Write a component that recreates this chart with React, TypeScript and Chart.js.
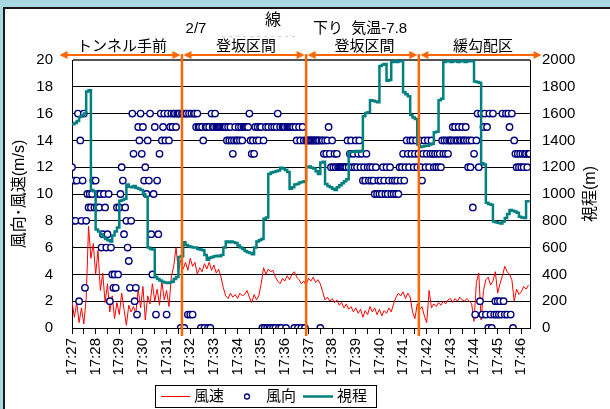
import React, { useEffect, useRef } from 'react';
import { Chart, registerables } from 'chart.js';

Chart.register(...registerables);

// ---------------- data ----------------
const timeLabels = [
  '17:27', '17:28', '17:29', '17:30', '17:31', '17:32', '17:33', '17:34', '17:35', '17:36',
  '17:37', '17:38', '17:39', '17:40', '17:41', '17:42', '17:43', '17:44', '17:45', '17:46',
];

// seconds after 17:27:00
const SPEED_STEP = 6;
const DIR_STEP = 3;
const VIS_STEP = 6;
const X_MAX = 1162;

// 風速 (m/s), every 6 s
const windSpeed = [
  2.0, 0.8, 1.9, 0.4, 1.5, 0.3, 2.2, 7.6, 5.2, 6.3,
  4.0, 5.8, 2.8, 4.1, 1.9, 3.3, 1.2, 2.4, 0.7, 1.9,
  1.0, 2.6, 1.4, 0.2, 1.7, 1.2, 1.6, 1.1, 2.9, 1.5,
  3.1, 0.6, 2.4, 1.8, 3.3, 2.0, 2.9, 1.7, 3.5, 2.1,
  2.8, 1.6, 3.8, 4.6, 6.0, 4.2, 5.1, 4.4, 4.9, 4.3,
  5.2, 4.6, 4.9, 4.0, 4.5, 4.2, 4.8, 4.4, 4.9, 4.3,
  4.7, 4.1, 4.4, 3.8, 3.0, 2.4, 2.2, 2.6, 2.3, 2.5,
  2.2, 2.6, 2.4, 2.5, 2.8, 2.3, 1.9, 2.5, 2.1, 2.4,
  3.3, 4.5, 4.0, 4.4, 4.2, 4.3, 3.8, 3.5, 3.3, 3.7,
  3.5, 3.9, 3.6, 4.0, 4.2, 3.8, 3.6, 3.3, 3.5, 3.2,
  3.7, 3.5, 3.8, 3.4, 3.6, 3.3, 2.7, 2.1, 2.3, 2.0,
  2.2, 1.9, 2.1, 1.7, 1.9, 1.5, 1.8, 1.4, 1.6, 1.2,
  1.5, 1.1, 1.4, 0.8, 1.3, 1.0, 1.6, 1.2, 1.5, 1.0,
  1.4, 0.9, 1.3, 1.1, 1.5, 1.2, 1.8, 2.3, 2.6, 2.4,
  2.7, 2.2, 2.6, 2.3, 1.2, 0.7, 1.8, 1.4, 1.6, 0.9,
  0.4, 2.8, 1.5, 1.8, 1.6, 1.9, 1.7, 2.0, 1.8, 2.1,
  2.2, 1.9, 2.2, 2.0, 2.3, 2.1, 2.0, 2.2, 2.0, 1.8,
  0.5, 3.4, 4.1, 0.6, 2.8, 3.6, 3.8, 3.2, 3.5, 4.2,
  2.6, 3.3, 3.9, 4.6, 4.2, 4.0, 3.6, 2.0, 2.9, 2.5,
  2.7, 3.1, 2.9, 3.2,
];

// 風向 (16 directions), every 3 s
const windDir = [
  12, 8, 11, 8, 11, 16, 2, 14, 8, 11, 16, 3, 8, 10, 9, 10, 9, 10, 11, 9,
  11, 9, 10, 9, 10, 6, 7, 10, 9, 6, 7, 10, 2, 6, 4, 3, 4, 3, 9, 4,
  9, 10, 12, 11, 7, 9, 8, 6, 5, 3, 8, 16, 13, 2, 3, 1, 15, 14, 16, 13,
  15, 11, 12, 10, 14, 11, 16, 7, 4, 10, 15, 1, 11, 7, 13, 16, 14, 15, 16, 14,
  1, 16, 14, 15, 16, 15, 16, 16, 15, 16, 16, 16, 0, 16, 16, 0, 16, 16, 1, 16,
  1, 16, 1, 16, 16, 15, 16, 15, 15, 0, 15, 14, 0, 15, 15, 0, 15, 0, 16, 15,
  15, 16, 15, 15, 15, 15, 15, 15, 15, 15, 15, 14, 15, 14, 15, 14, 13, 14, 15, 14,
  14, 15, 14, 15, 14, 15, 15, 15, 15, 15, 16, 14, 13, 14, 13, 15, 14, 15, 14, 15,
  15, 0, 14, 0, 15, 0, 15, 0, 0, 15, 0, 15, 0, 15, 16, 0, 15, 0, 15, 15,
  15, 0, 15, 15, 15, 15, 15, 15, 0, 15, 14, 0, 15, 14, 0, 15, 14, 0, 14, 14,
  14, 14, 14, 14, 14, 14, 14, 14, 14, 14, 0, 14, 14, 13, 14, 13, 14, 15, 13, 12,
  14, 12, 13, 12, 13, 12, 12, 12, 12, 12, 12, 12, 12, 14, 12, 13, 14, 12, 13, 12,
  14, 12, 13, 14, 12, 13, 11, 12, 11, 13, 12, 11, 12, 11, 12, 11, 10, 12, 10, 11,
  10, 11, 10, 12, 11, 10, 12, 10, 11, 12, 10, 11, 10, 11, 10, 11, 10, 12, 11, 12,
  13, 11, 12, 14, 13, 12, 14, 13, 14, 12, 13, 14, 12, 13, 14, 12, 11, 13, 14, 12,
  13, 14, 12, 13, 14, 13, 12, 13, 12, 13, 12, 13, 12, 14, 13, 14, 13, 14, 13, 14,
  14, 14, 15, 14, 15, 14, 14, 15, 14, 14, 15, 14, 14, 15, 14, 12, 14, 12, 14, 9,
  13, 1, 14, 16, 12, 2, 16, 1, 15, 16, 1, 15, 0, 16, 1, 0, 16, 1, 2, 1,
  2, 1, 2, 1, 16, 2, 1, 16, 1, 16, 15, 1, 16, 0, 14, 13, 12, 13, 12, 13,
  12, 13, 12, 13, 13, 12, 13, 13,
];

// 視程 (m), every 6 s
const visibility = [
  1520, 1530, 1545, 1575, 1585, 1600, 1765, 1775, 1030, 1020,
  735, 720, 700, 680, 665, 655, 645, 690, 720, 750,
  950, 955, 965, 1070, 1055, 1050, 1060, 1045, 1040, 1030,
  1000, 980, 600, 590, 585, 380, 365, 355, 345, 340,
  335, 340, 345, 365, 380, 530, 535, 640, 620, 610,
  605, 600, 600, 590, 585, 580, 545, 510, 525, 530,
  535, 540, 535, 545, 600, 645, 640, 645, 640, 635,
  615, 600, 590, 575, 565, 560, 550, 600, 645, 655,
  665, 815, 825, 1150, 1160, 1165, 1170, 1175, 1195, 1190,
  1180, 1165, 1040, 1050, 1070, 1075, 1085, 1090, 1095, 1200,
  1205, 1195, 1190, 1170, 1150, 1236, 1240, 1075, 1060, 1050,
  1040, 1030, 1050, 1065, 1080, 1095, 1110, 1310, 1315, 1315,
  1320, 1315, 1320, 1580, 1605, 1610, 1700, 1695, 1690, 1685,
  1955, 1965, 1970, 1845, 1850, 1985, 1990, 1985, 1995, 1990,
  1760, 1745, 1730, 1590, 1570, 1560, 1370, 1350, 1355, 1360,
  1360, 1370, 1375, 1460, 1465, 1700, 1710, 1985, 1995, 1990,
  1985, 1995, 1990, 1985, 1995, 1990, 1985, 1990, 1995, 1990,
  1840, 1835, 1830, 1230, 1220, 935, 925, 920, 795, 790,
  785, 780, 795, 820, 850, 880, 875, 870, 860, 830,
  825, 820, 945, 955,
];

// section boundaries (seconds after 17:27:00) and names
const sectionBounds = [279, 594, 880];
const sectionNames = ['トンネル手前', '登坂区間', '登坂区間', '緩勾配区'];

const headerDate = '2/7';
const headerLine = '線';
const headerInfo = '下り  気温-7.8';
const leftTitle = '風向･風速(m/s)';
const rightTitle = '視程(m)';
const legendNames = ['風速', '風向', '視程'];

// ---------------- styles ----------------
const FONT = "'Liberation Sans', 'Noto Sans CJK JP', Arial, sans-serif";
const RED = '#ff0000';
const NAVY = '#000080';
const TEAL = '#008080';
const ORANGE = '#ff6600';

function doubleArrow(ctx: CanvasRenderingContext2D, x1: number, x2: number, y: number) {
  const hl = 8;
  const hw = 4;
  ctx.beginPath();
  ctx.moveTo(x1 + hl - 1, y);
  ctx.lineTo(x2 - hl + 1, y);
  ctx.stroke();
  ctx.beginPath();
  ctx.moveTo(x1, y);
  ctx.lineTo(x1 + hl, y - hw);
  ctx.lineTo(x1 + hl, y + hw);
  ctx.closePath();
  ctx.fill();
  ctx.beginPath();
  ctx.moveTo(x2, y);
  ctx.lineTo(x2 - hl, y - hw);
  ctx.lineTo(x2 - hl, y + hw);
  ctx.closePath();
  ctx.fill();
}

const overlayPlugin = {
  id: 'overlay',
  afterDraw(chart: any) {
    const { ctx, chartArea: ca, scales } = chart;
    const xs = scales.x;
    ctx.save();

    const bx = sectionBounds.map((t) => xs.getPixelForValue(t));
    // orange boundary lines
    ctx.strokeStyle = ORANGE;
    ctx.fillStyle = ORANGE;
    ctx.lineWidth = 2.5;
    bx.forEach((x) => {
      ctx.beginPath();
      ctx.moveTo(x, ca.top - 6);
      ctx.lineTo(x, ca.bottom + 8);
      ctx.stroke();
    });
    // arrows
    const ends = [ca.left - 14, ...bx, ca.right + 13];
    const ay = ca.top - 5;
    ctx.lineWidth = 2;
    for (let k = 0; k < ends.length - 1; k++) {
      doubleArrow(ctx, ends[k] + 1.5, ends[k + 1] - 1.5, ay);
    }

    // section labels
    ctx.fillStyle = '#000';
    ctx.font = `15px ${FONT}`;
    ctx.textAlign = 'center';
    ctx.textBaseline = 'middle';
    sectionNames.forEach((n, k) => {
      ctx.fillText(n, (ends[k] + ends[k + 1]) / 2 + 2, ca.top - 13);
    });

    // header
    ctx.font = `15px ${FONT}`;
    ctx.fillText(headerDate, 196, 29);
    ctx.font = `16px ${FONT}`;
    ctx.fillText(headerLine, 273, 21);
    ctx.textAlign = 'left';
    ctx.font = `15px ${FONT}`;
    ctx.fillText(headerInfo, 313, 29);
    ctx.strokeStyle = '#d0d0d0';
    ctx.lineWidth = 1;
    ctx.setLineDash([3, 4]);
    ctx.beginPath();
    ctx.moveTo(222, 36.5);
    ctx.lineTo(296, 36.5);
    ctx.stroke();
    ctx.setLineDash([]);

    // right axis title (reads bottom to top)
    ctx.save();
    ctx.translate(591, (ca.top + ca.bottom) / 2);
    ctx.rotate(-Math.PI / 2);
    ctx.textAlign = 'center';
    ctx.font = `16px ${FONT}`;
    ctx.fillText(rightTitle, 0, 0);
    ctx.restore();

    // legend
    const lx = 155.5;
    const ly = 385.5;
    const lw = 221;
    const lh = 22;
    ctx.strokeStyle = '#000';
    ctx.lineWidth = 1;
    ctx.strokeRect(lx, ly, lw, lh);
    const cy = ly + lh / 2;
    ctx.font = `15px ${FONT}`;
    ctx.textAlign = 'left';
    ctx.fillStyle = '#000';
    // 風速
    ctx.strokeStyle = RED;
    ctx.lineWidth = 1;
    ctx.beginPath();
    ctx.moveTo(161, cy);
    ctx.lineTo(190, cy);
    ctx.stroke();
    ctx.fillText(legendNames[0], 194, cy);
    // 風向
    ctx.strokeStyle = NAVY;
    ctx.lineWidth = 1.3;
    ctx.beginPath();
    ctx.arc(247, cy, 2.5, 0, Math.PI * 2);
    ctx.stroke();
    ctx.fillText(legendNames[1], 266, cy);
    // 視程
    ctx.strokeStyle = TEAL;
    ctx.lineWidth = 2.5;
    ctx.beginPath();
    ctx.moveTo(303, cy);
    ctx.lineTo(333, cy);
    ctx.stroke();
    ctx.fillText(legendNames[2], 337, cy);

    ctx.restore();
  },
};

export default function App() {
  const ref = useRef<HTMLCanvasElement>(null);

  useEffect(() => {
    const canvas = ref.current;
    if (!canvas) return;
    Chart.defaults.font.family = FONT;
    Chart.defaults.font.size = 15;
    Chart.defaults.color = '#000';

    const chart = new Chart(canvas, {
      type: 'line',
      data: {
        datasets: [
          {
            label: legendNames[0],
            data: windSpeed.map((v, i) => ({ x: i * SPEED_STEP, y: v })),
            borderColor: RED,
            backgroundColor: RED,
            borderWidth: 1,
            pointRadius: 0,
            yAxisID: 'y',
            order: 2,
          },
          {
            label: legendNames[1],
            data: windDir.map((v, i) => ({ x: i * DIR_STEP, y: v })),
            showLine: false,
            pointRadius: 3.2,
            pointBorderWidth: 1.4,
            pointBorderColor: NAVY,
            pointBackgroundColor: '#ffffff',
            borderColor: NAVY,
            backgroundColor: '#ffffff',
            yAxisID: 'y',
            order: 1,
          },
          {
            label: legendNames[2],
            data: visibility.map((v, i) => ({ x: i * VIS_STEP, y: v })),
            borderColor: TEAL,
            backgroundColor: TEAL,
            borderWidth: 2.5,
            pointRadius: 0,
            stepped: true,
            yAxisID: 'y2',
            order: 0,
          },
        ],
      } as any,
      options: {
        responsive: false,
        animation: false,
        layout: { padding: { top: 60, left: 0, right: 0, bottom: 0 } },
        plugins: { legend: { display: false }, tooltip: { enabled: false } },
        scales: {
          x: {
            type: 'linear',
            min: 0,
            max: X_MAX,
            afterFit: (s: any) => {
              s.height = 81;
            },
            grid: { drawOnChartArea: false, drawTicks: true, tickLength: 6, color: '#000' },
            border: { display: true, color: '#000', width: 1 },
            ticks: {
              stepSize: 30,
              autoSkip: false,
              includeBounds: false,
              minRotation: 90,
              maxRotation: 90,
              padding: 4,
              color: '#000',
              font: { size: 15 },
              callback: (v: any) => {
                const n = Number(v);
                return n % 60 === 0 ? timeLabels[n / 60] ?? '' : '';
              },
            },
          },
          y: {
            position: 'left',
            min: 0,
            max: 20,
            afterFit: (s: any) => {
              s.width = 72;
            },
            grid: {
              color: (c: any) => (c.tick && c.tick.value === 20 ? '#555' : '#000'),
              lineWidth: (c: any) => (c.tick && c.tick.value === 20 ? 2 : 1),
              drawTicks: false,
            },
            border: { display: true, color: '#000', width: 1 },
            ticks: {
              stepSize: 2,
              padding: 19,
              color: '#000',
              font: { size: 15 },
              callback: (v: any) => String(v),
            },
            title: {
              display: true,
              text: leftTitle,
              color: '#000',
              font: { size: 16 },
              padding: { top: 10, bottom: 0 },
            },
          },
          y2: {
            position: 'right',
            min: 0,
            max: 2000,
            afterFit: (s: any) => {
              s.width = 80;
            },
            grid: { drawOnChartArea: false, drawTicks: false },
            border: { display: true, color: '#000', width: 1 },
            ticks: {
              stepSize: 200,
              padding: 12,
              color: '#000',
              font: { size: 15 },
              callback: (v: any) => String(v),
            },
          },
        },
      } as any,
      plugins: [overlayPlugin],
    });
    return () => chart.destroy();
  }, []);

  return (
    <div
      style={{
        position: 'fixed',
        left: 0,
        top: 0,
        width: 610,
        height: 409,
        background: '#a9d9e1',
        overflow: 'hidden',
      }}
    >
      <div
        style={{
          position: 'absolute',
          left: 3,
          top: 7,
          right: 0,
          bottom: 0,
          background: '#ffffff',
          borderTop: '2px solid #1a1a1a',
          borderLeft: '2px solid #1a1a1a',
        }}
      />
      <canvas
        ref={ref}
        width={610}
        height={409}
        style={{ position: 'absolute', left: 0, top: 0, width: 610, height: 409 }}
      />
    </div>
  );
}
